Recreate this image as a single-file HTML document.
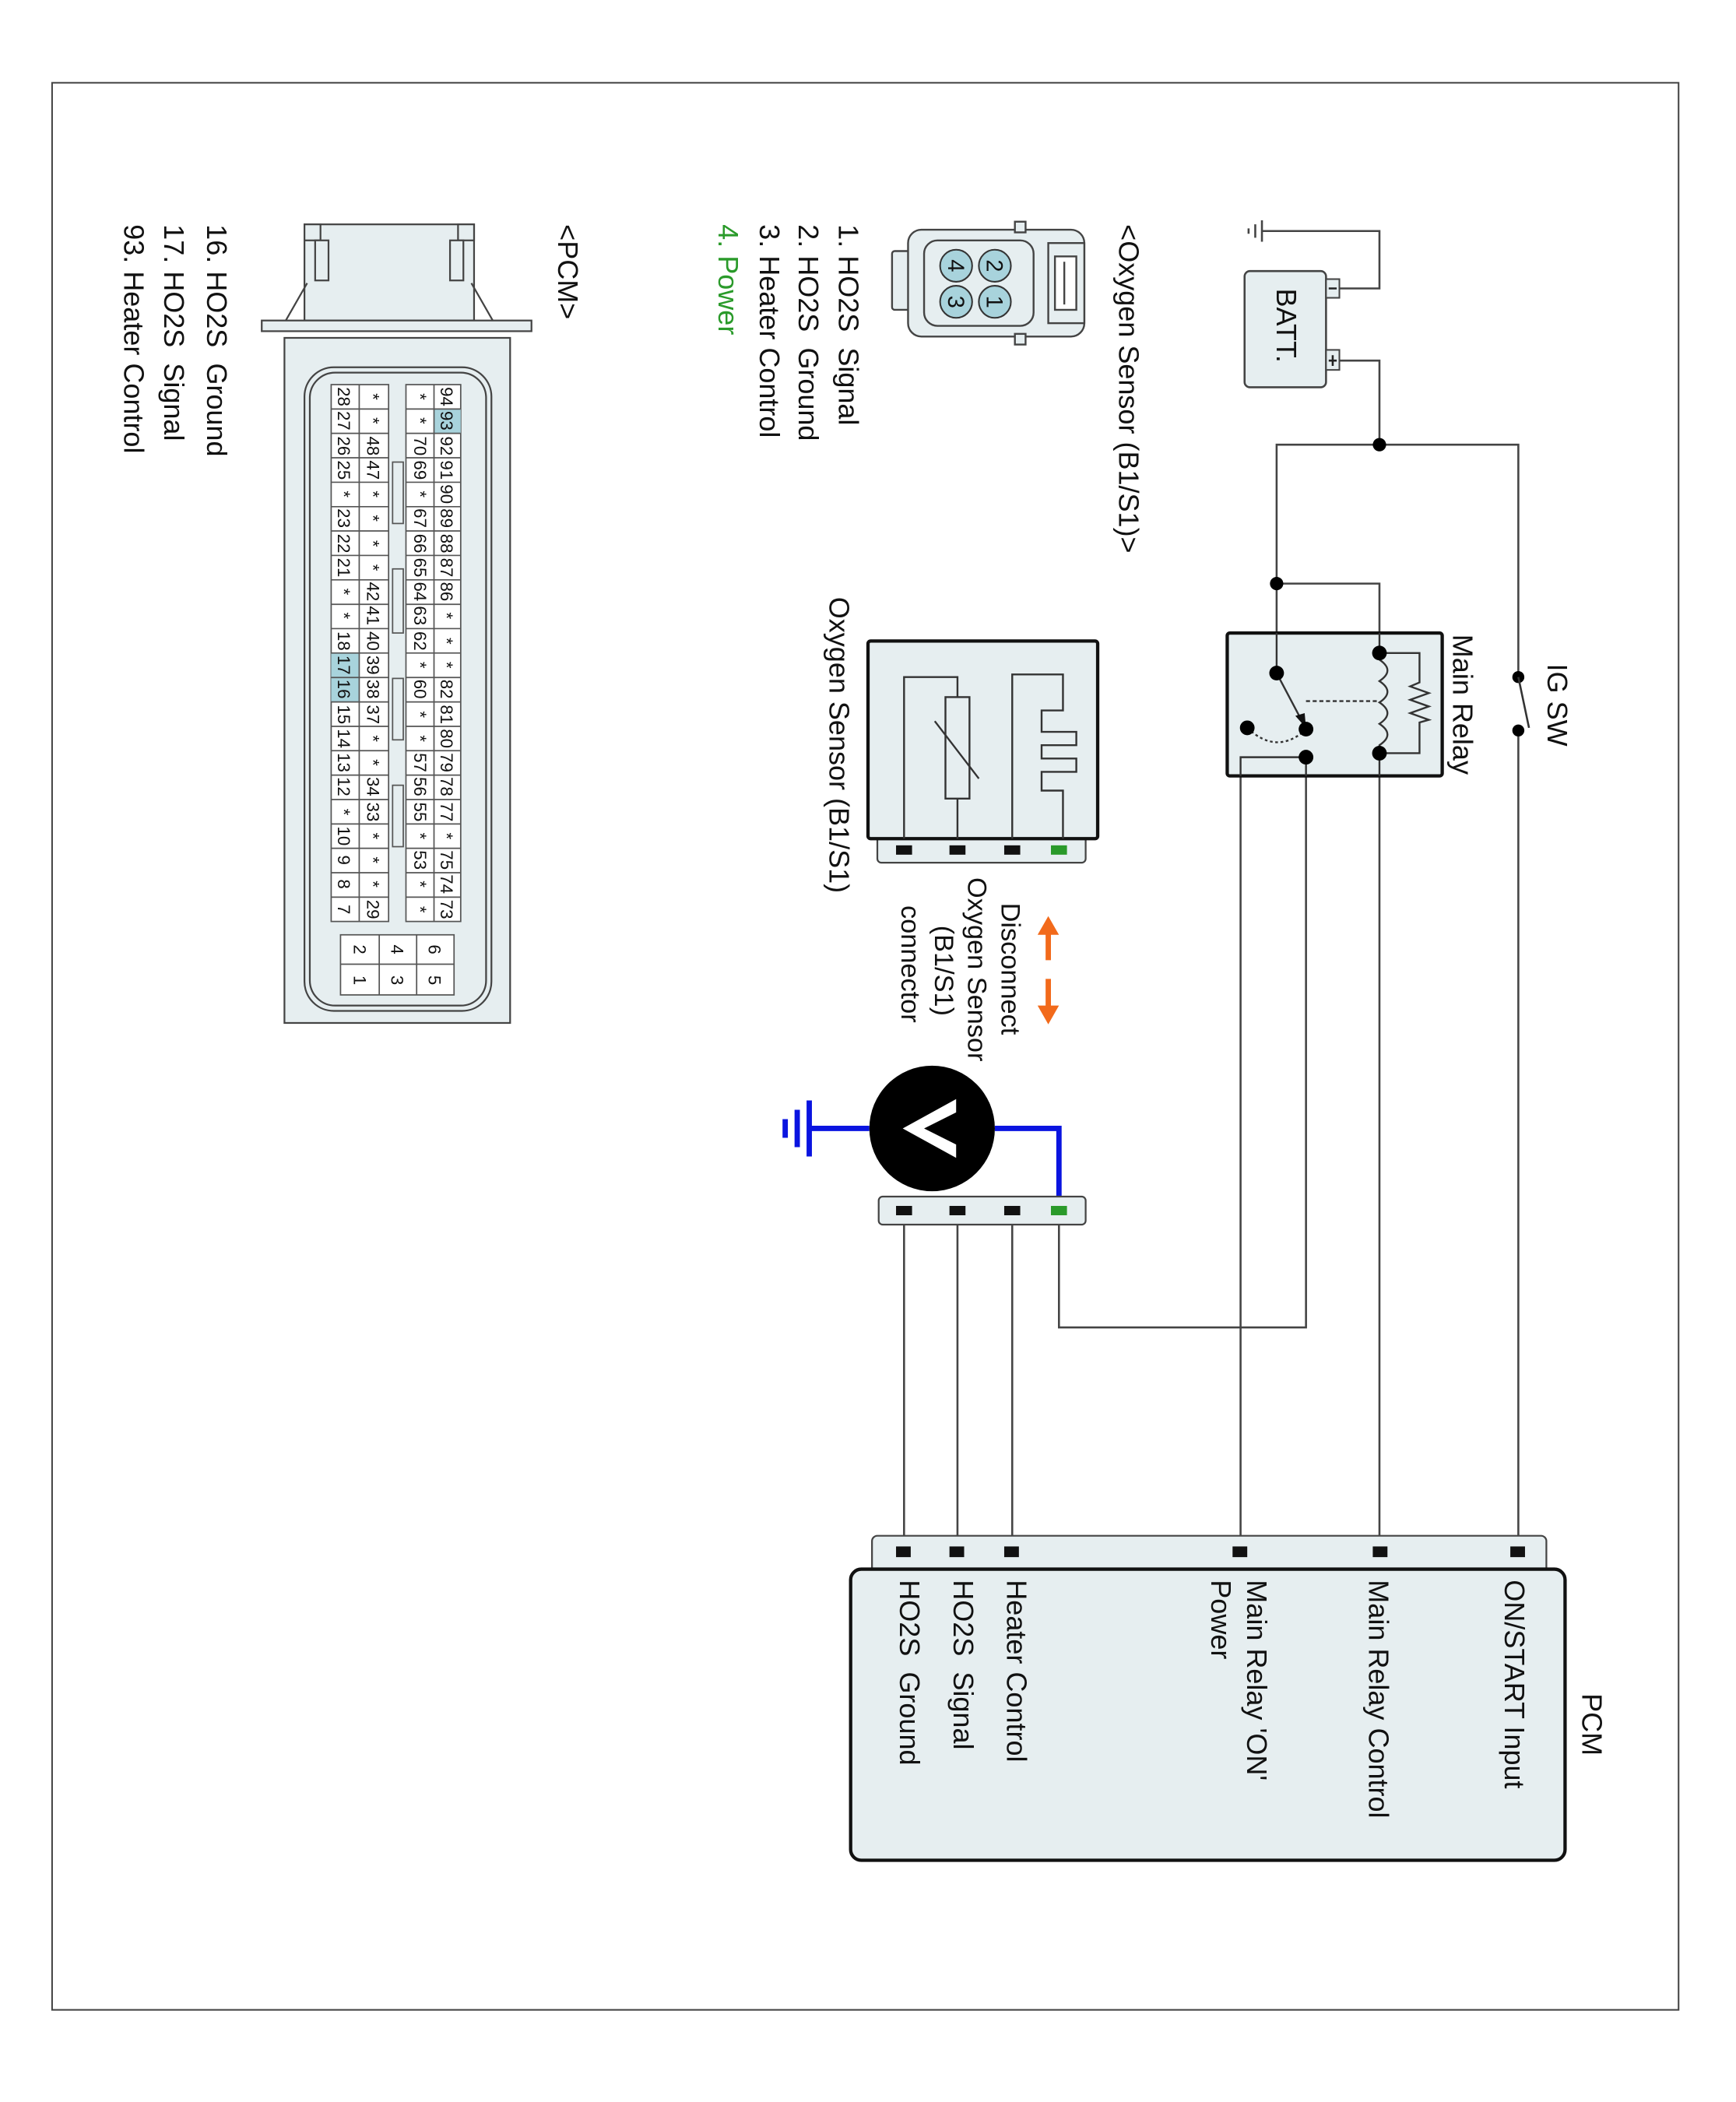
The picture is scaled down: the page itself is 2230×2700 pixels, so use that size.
<!DOCTYPE html>
<html><head><meta charset="utf-8"><style>
html,body{margin:0;padding:0;background:#fff;}
svg{display:block;}
text{font-family:"Liberation Sans",Arial,sans-serif;fill:#111;white-space:pre;}
</style></head><body>
<svg width="2230" height="2700" viewBox="0 0 1300 1574" xmlns="http://www.w3.org/2000/svg">
<rect x="39" y="62" width="1218" height="1443" fill="none" stroke="#444" stroke-width="1.2"/>

<!-- Battery -->
<g stroke="#444" stroke-width="1.5" fill="none">
<path d="M1003,216 H1033 V173 H945"/>
<path d="M945,165 V181 M940,168 V178 M935,171 V175"/>
<path d="M1003,270 H1033 V333"/>
<path d="M956,437 V333 H1137 V507"/>
<path d="M956,437 H1033 V489"/>
<path d="M956,437 V504"/>
<path d="M1137,547 V1162"/>
<path d="M1033,564 V1162"/>
<path d="M978,567 V994 H793 V906"/>
<path d="M978,567 H929 V1162"/>
<path d="M758,917 V1162 M717,917 V1162 M677,917 V1162"/>
</g>
<rect x="932" y="203" width="61" height="87" rx="4" fill="#e6eef0" stroke="#444" stroke-width="1.5"/>
<rect x="993" y="209" width="10" height="14" fill="#e6eef0" stroke="#444" stroke-width="1.2"/>
<rect x="993" y="262" width="10" height="15" fill="#e6eef0" stroke="#444" stroke-width="1.2"/>
<path d="M995,216 H1001 M995,270 H1001 M998,266 V274" stroke="#222" stroke-width="1.5"/>
<text transform="translate(956,216) rotate(90)" font-size="21">BATT.</text>

<!-- IG SW -->
<circle cx="1137" cy="507" r="4.5" fill="#000"/>
<circle cx="1137" cy="547" r="4.5" fill="#000"/>
<path d="M1137,507 L1145,545" stroke="#333" stroke-width="1.5"/>
<text transform="translate(1159,497) rotate(90)" font-size="21">IG SW</text>
<circle cx="1033" cy="333" r="5" fill="#000"/>
<circle cx="956" cy="437" r="5" fill="#000"/>

<!-- Main relay -->
<text transform="translate(1088,475) rotate(90)" font-size="21">Main Relay</text>
<rect x="919" y="474" width="161" height="107" rx="2" fill="#e6eef0" stroke="#111" stroke-width="2.5"/>
<g stroke="#333" stroke-width="1.4" fill="none">
<path d="M956,474 V504"/>
<path d="M1033,474 V489 M1033,564 V581 M978,567 V581 M929,581 V567 H978"/>
<path d="M1033,489 H1063 V511 L1056,514 L1070,519 L1056,524 L1070,529 L1056,534 L1070,539 L1063,541 V564 H1033"/>
<path d="M1033,494 q12,8 0,16 q12,8 0,16 q12,8 0,16 q12,8 0,16 V564"/>
<path d="M956,504 L975,540"/>
<path d="M978,525 H1033" stroke-dasharray="3,2"/>
<path d="M934,545 Q955,565 976,548" stroke-dasharray="2,2"/>
</g>
<path d="M978,545 L970,536 L977,534 Z" fill="#111"/>
<circle cx="1033" cy="489" r="5.5" fill="#000"/>
<circle cx="1033" cy="564" r="5.5" fill="#000"/>
<circle cx="956" cy="504" r="5.5" fill="#000"/>
<circle cx="978" cy="546" r="5.5" fill="#000"/>
<circle cx="978" cy="567" r="5.5" fill="#000"/>
<circle cx="934" cy="545" r="5.5" fill="#000"/>

<!-- Oxygen sensor connector icon -->
<g stroke="#444" stroke-width="1.4" fill="#e6eef0">
<rect x="668" y="188" width="20" height="44" rx="2"/>
<rect x="680" y="172" width="132" height="80" rx="10"/>
<rect x="760" y="166" width="8" height="8"/>
<rect x="760" y="250" width="8" height="8"/>
<rect x="692" y="180" width="82" height="64" rx="10"/>
<rect x="785" y="182" width="27" height="60"/>
<rect x="790" y="192" width="16" height="40" fill="#fff"/>
<path d="M797,196 V228"/>
</g>
<g stroke="#333" stroke-width="1.2" fill="#a8d3dc">
<circle cx="745" cy="199" r="12"/><circle cx="745" cy="226" r="12"/>
<circle cx="716" cy="199" r="12"/><circle cx="716" cy="226" r="12"/>
</g>
<g font-size="17" text-anchor="middle">
<text transform="translate(739,199) rotate(90)">2</text>
<text transform="translate(739,226) rotate(90)">1</text>
<text transform="translate(710,199) rotate(90)">4</text>
<text transform="translate(710,226) rotate(90)">3</text>
</g>
<text transform="translate(838,168) rotate(90)" font-size="21">&lt;Oxygen Sensor (B1/S1)&gt;</text>
<text transform="translate(628,168) rotate(90)" font-size="21">1. HO2S  Signal</text>
<text transform="translate(598,168) rotate(90)" font-size="21">2. HO2S  Ground</text>
<text transform="translate(569,168) rotate(90)" font-size="21">3. Heater Control</text>
<text transform="translate(538,168) rotate(90)" font-size="21" style="fill:#2a9a2a">4. Power</text>

<!-- Oxygen sensor box -->
<rect x="657" y="626" width="156" height="20" rx="3" fill="#e6eef0" stroke="#444" stroke-width="1.3"/>
<rect x="650" y="480" width="172" height="148" rx="2" fill="#e6eef0" stroke="#111" stroke-width="2.5"/>
<g stroke="#333" stroke-width="1.4" fill="none">
<path d="M677,628 V507 H717 V628"/>
<rect x="708" y="522" width="18" height="76" fill="#e6eef0"/>
<path d="M700,540 L733,583"/>
<path d="M758,628 V505 H796 V532 H780 V548 H806 V558 H780 V568 H806 V578 H780 V592 H796 V628"/>
</g>
<g>
<rect x="671" y="633" width="12" height="7" fill="#111"/>
<rect x="711" y="633" width="12" height="7" fill="#111"/>
<rect x="752" y="633" width="12" height="7" fill="#111"/>
<rect x="787" y="633" width="12" height="7" fill="#2a9a2a"/>
</g>
<text transform="translate(621,447) rotate(90)" font-size="21">Oxygen Sensor (B1/S1)</text>

<!-- Disconnect label and arrows -->
<g fill="#f26a1b">
<rect x="783" y="697" width="4" height="22"/>
<path d="M785,686 L777,700 L793,700 Z"/>
<rect x="783" y="733" width="4" height="22"/>
<path d="M785,767 L777,753 L793,753 Z"/>
</g>
<text transform="translate(750,676) rotate(90)" font-size="20">Disconnect</text>
<text transform="translate(725,657) rotate(90)" font-size="20">Oxygen Sensor</text>
<text transform="translate(700,693) rotate(90)" font-size="20">(B1/S1)</text>
<text transform="translate(675,678) rotate(90)" font-size="20">connector</text>

<!-- Voltmeter -->
<path d="M745,845 H793 V906" stroke="#0a14e0" stroke-width="4" fill="none"/>
<path d="M651,845 H606" stroke="#0a14e0" stroke-width="4"/>
<path d="M606,824 V866 M597,831 V859 M588,838 V852" stroke="#0a14e0" stroke-width="4"/>
<circle cx="698" cy="845" r="47" fill="#000"/>
<path d="M716,823 L676,845 L716,867 L716,857 L692,845 L716,833 Z" fill="#fff"/>
<rect x="658" y="896" width="155" height="21" rx="3" fill="#e6eef0" stroke="#444" stroke-width="1.3"/>
<rect x="671" y="903" width="12" height="7" fill="#111"/>
<rect x="711" y="903" width="12" height="7" fill="#111"/>
<rect x="752" y="903" width="12" height="7" fill="#111"/>
<rect x="787" y="903" width="12" height="7" fill="#2a9a2a"/>

<!-- PCM box -->
<rect x="653" y="1150" width="505" height="30" rx="4" fill="#e6eef0" stroke="#444" stroke-width="1.3"/>
<rect x="637" y="1175" width="535" height="218" rx="8" fill="#e6eef0" stroke="#111" stroke-width="2.5"/>
<g fill="#111">
<rect x="1131" y="1158" width="11" height="8"/>
<rect x="1028" y="1158" width="11" height="8"/>
<rect x="923" y="1158" width="11" height="8"/>
<rect x="752" y="1158" width="11" height="8"/>
<rect x="711" y="1158" width="11" height="8"/>
<rect x="671" y="1158" width="11" height="8"/>
</g>
<text transform="translate(1185,1268) rotate(90)" font-size="21">PCM</text>
<text transform="translate(1127,1183) rotate(90)" font-size="21">ON/START Input</text>
<text transform="translate(1025,1183) rotate(90)" font-size="21">Main Relay Control</text>
<text transform="translate(934,1183) rotate(90)" font-size="21">Main Relay 'ON'</text>
<text transform="translate(907,1183) rotate(90)" font-size="21">Power</text>
<text transform="translate(754,1183) rotate(90)" font-size="21">Heater Control</text>
<text transform="translate(714,1183) rotate(90)" font-size="21">HO2S  Signal</text>
<text transform="translate(674,1183) rotate(90)" font-size="21">HO2S  Ground</text>

<!-- PCM connector -->
<g stroke="#444" stroke-width="1.3" fill="#e6eef0">
<rect x="228" y="168" width="127" height="72"/>
<rect x="228" y="168" width="12" height="12"/>
<rect x="343" y="168" width="12" height="12"/>
<rect x="236" y="180" width="10" height="30"/>
<rect x="337" y="180" width="10" height="30"/>
<path d="M230,212 L214,240 M353,212 L369,240"/>
<rect x="196" y="240" width="202" height="8"/>
<rect x="213" y="253" width="169" height="513"/>
<rect x="228" y="275" width="140" height="482" rx="22" fill="none"/>
<rect x="232" y="279" width="132" height="474" rx="19" fill="none"/>
</g>
<g stroke="#555" stroke-width="1" fill="#fff">
<rect x="248" y="288" width="43" height="402" fill="#fff"/>
<rect x="304" y="288" width="41" height="402" fill="#fff"/>
<rect x="294" y="346" width="8" height="46" fill="#e6eef0"/>
<rect x="294" y="426" width="8" height="48" fill="#e6eef0"/>
<rect x="294" y="508" width="8" height="46" fill="#e6eef0"/>
<rect x="294" y="588" width="8" height="46" fill="#e6eef0"/>
<rect x="255" y="700" width="85" height="45" fill="#fff"/>
<path d="M284,700 V745 M312,700 V745 M255,722 H340"/>
</g>
<rect x="325" y="306.3" width="20" height="18.3" fill="#a8d3dc"/>
<rect x="248" y="489.3" width="21" height="36.6" fill="#a8d3dc"/>
<g stroke="#555" stroke-width="1">
<path d="M269,288 V690 M325,288 V690"/>
<path d="M248,306.3 H291 M248,324.5 H291 M248,342.8 H291 M248,361.1 H291 M248,379.4 H291 M248,397.6 H291 M248,415.9 H291 M248,434.2 H291 M248,452.5 H291 M248,470.7 H291 M248,489 H291 M248,507.3 H291 M248,525.6 H291 M248,543.9 H291 M248,562.1 H291 M248,580.4 H291 M248,598.7 H291 M248,617 H291 M248,635.2 H291 M248,653.5 H291 M248,671.8 H291"/>
<path d="M304,306.3 H345 M304,324.5 H345 M304,342.8 H345 M304,361.1 H345 M304,379.4 H345 M304,397.6 H345 M304,415.9 H345 M304,434.2 H345 M304,452.5 H345 M304,470.7 H345 M304,489 H345 M304,507.3 H345 M304,525.6 H345 M304,543.9 H345 M304,562.1 H345 M304,580.4 H345 M304,598.7 H345 M304,617 H345 M304,635.2 H345 M304,653.5 H345 M304,671.8 H345"/>
</g>
<g font-size="13" text-anchor="middle">
<text transform="translate(330,297) rotate(90)">94</text><text transform="translate(330,315) rotate(90)">93</text><text transform="translate(330,334) rotate(90)">92</text><text transform="translate(330,352) rotate(90)">91</text><text transform="translate(330,370) rotate(90)">90</text><text transform="translate(330,388) rotate(90)">89</text><text transform="translate(330,407) rotate(90)">88</text><text transform="translate(330,425) rotate(90)">87</text><text transform="translate(330,443) rotate(90)">86</text><text transform="translate(330,461) rotate(90)">*</text><text transform="translate(330,480) rotate(90)">*</text><text transform="translate(330,498) rotate(90)">*</text><text transform="translate(330,516) rotate(90)">82</text><text transform="translate(330,535) rotate(90)">81</text><text transform="translate(330,553) rotate(90)">80</text><text transform="translate(330,571) rotate(90)">79</text><text transform="translate(330,589) rotate(90)">78</text><text transform="translate(330,608) rotate(90)">77</text><text transform="translate(330,626) rotate(90)">*</text><text transform="translate(330,644) rotate(90)">75</text><text transform="translate(330,662) rotate(90)">74</text><text transform="translate(330,681) rotate(90)">73</text>
<text transform="translate(310,297) rotate(90)">*</text><text transform="translate(310,315) rotate(90)">*</text><text transform="translate(310,334) rotate(90)">70</text><text transform="translate(310,352) rotate(90)">69</text><text transform="translate(310,370) rotate(90)">*</text><text transform="translate(310,388) rotate(90)">67</text><text transform="translate(310,407) rotate(90)">66</text><text transform="translate(310,425) rotate(90)">65</text><text transform="translate(310,443) rotate(90)">64</text><text transform="translate(310,461) rotate(90)">63</text><text transform="translate(310,480) rotate(90)">62</text><text transform="translate(310,498) rotate(90)">*</text><text transform="translate(310,516) rotate(90)">60</text><text transform="translate(310,535) rotate(90)">*</text><text transform="translate(310,553) rotate(90)">*</text><text transform="translate(310,571) rotate(90)">57</text><text transform="translate(310,589) rotate(90)">56</text><text transform="translate(310,608) rotate(90)">55</text><text transform="translate(310,626) rotate(90)">*</text><text transform="translate(310,644) rotate(90)">53</text><text transform="translate(310,662) rotate(90)">*</text><text transform="translate(310,681) rotate(90)">*</text>
<text transform="translate(275,297) rotate(90)">*</text><text transform="translate(275,315) rotate(90)">*</text><text transform="translate(275,334) rotate(90)">48</text><text transform="translate(275,352) rotate(90)">47</text><text transform="translate(275,370) rotate(90)">*</text><text transform="translate(275,388) rotate(90)">*</text><text transform="translate(275,407) rotate(90)">*</text><text transform="translate(275,425) rotate(90)">*</text><text transform="translate(275,443) rotate(90)">42</text><text transform="translate(275,461) rotate(90)">41</text><text transform="translate(275,480) rotate(90)">40</text><text transform="translate(275,498) rotate(90)">39</text><text transform="translate(275,516) rotate(90)">38</text><text transform="translate(275,535) rotate(90)">37</text><text transform="translate(275,553) rotate(90)">*</text><text transform="translate(275,571) rotate(90)">*</text><text transform="translate(275,589) rotate(90)">34</text><text transform="translate(275,608) rotate(90)">33</text><text transform="translate(275,626) rotate(90)">*</text><text transform="translate(275,644) rotate(90)">*</text><text transform="translate(275,662) rotate(90)">*</text><text transform="translate(275,681) rotate(90)">29</text>
<text transform="translate(253,297) rotate(90)">28</text><text transform="translate(253,315) rotate(90)">27</text><text transform="translate(253,334) rotate(90)">26</text><text transform="translate(253,352) rotate(90)">25</text><text transform="translate(253,370) rotate(90)">*</text><text transform="translate(253,388) rotate(90)">23</text><text transform="translate(253,407) rotate(90)">22</text><text transform="translate(253,425) rotate(90)">21</text><text transform="translate(253,443) rotate(90)">*</text><text transform="translate(253,461) rotate(90)">*</text><text transform="translate(253,480) rotate(90)">18</text><text transform="translate(253,498) rotate(90)">17</text><text transform="translate(253,516) rotate(90)">16</text><text transform="translate(253,535) rotate(90)">15</text><text transform="translate(253,553) rotate(90)">14</text><text transform="translate(253,571) rotate(90)">13</text><text transform="translate(253,589) rotate(90)">12</text><text transform="translate(253,608) rotate(90)">*</text><text transform="translate(253,626) rotate(90)">10</text><text transform="translate(253,644) rotate(90)">9</text><text transform="translate(253,662) rotate(90)">8</text><text transform="translate(253,681) rotate(90)">7</text>
<text transform="translate(321,711) rotate(90)">6</text><text transform="translate(321,734) rotate(90)">5</text>
<text transform="translate(293,711) rotate(90)">4</text><text transform="translate(293,734) rotate(90)">3</text>
<text transform="translate(265,711) rotate(90)">2</text><text transform="translate(265,734) rotate(90)">1</text>
</g>
<text transform="translate(418,168) rotate(90)" font-size="21">&lt;PCM&gt;</text>
<text transform="translate(155,168) rotate(90)" font-size="21">16. HO2S  Ground</text>
<text transform="translate(123,168) rotate(90)" font-size="21">17. HO2S  Signal</text>
<text transform="translate(93,168) rotate(90)" font-size="21">93. Heater Control</text>
</svg>
</body></html>
